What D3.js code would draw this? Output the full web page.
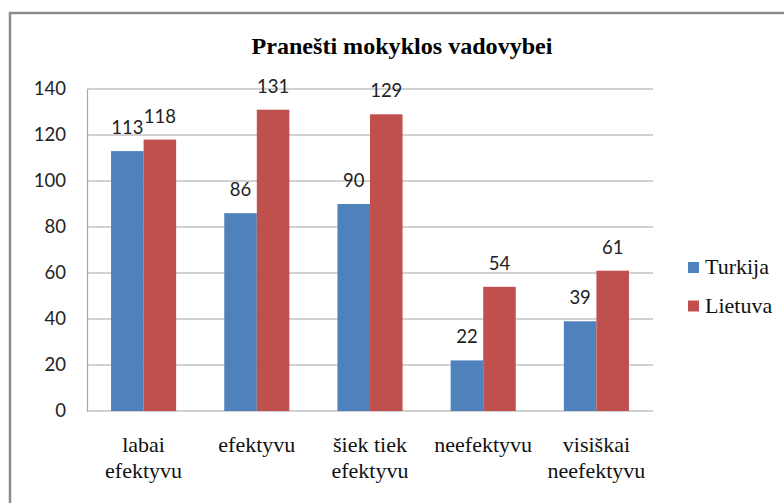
<!DOCTYPE html>
<html>
<head>
<meta charset="utf-8">
<script src="https://cdn.jsdelivr.net/npm/d3@7"></script>
<style>
  body { margin: 0; background: #fff; }
</style>
</head>
<body>
<script>
var WIDTH = 784,
    HEIGHT = 503;

var categories = [
    ['labai', 'efektyvu'],
    ['efektyvu'],
    ['šiek tiek', 'efektyvu'],
    ['neefektyvu'],
    ['visiškai', 'neefektyvu']
];
var seriesNames = ['Turkija', 'Lietuva'];
var turkija = [113, 86, 90, 22, 39];
var lietuva = [118, 131, 129, 54, 61];
var yTicks = [0, 20, 40, 60, 80, 100, 120, 140];
var colors = ['#4F81BD', '#C0504D'];

var SERIF = 'Liberation Serif, serif',
    SANS = 'Lato, Open Sans, sans-serif';

var svg = d3.select('body').append('svg')
    .attr('width', WIDTH)
    .attr('height', HEIGHT);

// outer chart border (runs off the right and bottom edges)
svg.append('rect')
    .attr('x', 10).attr('y', 13)
    .attr('width', 800).attr('height', 520)
    .attr('fill', 'none')
    .attr('stroke', '#8c8c8c')
    .attr('stroke-width', 2.5);

svg.append('text')
    .attr('x', 402).attr('y', 54)
    .attr('text-anchor', 'middle')
    .style('font-family', SERIF)
    .attr('font-weight', 'bold')
    .attr('font-size', 24)
    .attr('textLength', 301)
    .attr('lengthAdjust', 'spacingAndGlyphs')
    .text('Pranešti mokyklos vadovybei');

var plot = { left: 87, right: 653, top: 89, bottom: 411 };

var x = d3.scaleBand()
    .domain(d3.range(categories.length))
    .range([plot.left, plot.right])
    .paddingInner(0.425)
    .paddingOuter(0.2125);

var xs = d3.scaleBand()
    .domain(d3.range(seriesNames.length))
    .range([0, x.bandwidth()]);

var y = d3.scaleLinear()
    .domain([0, 140])
    .range([plot.bottom, plot.top]);

// gridlines
svg.append('g')
    .selectAll('line')
    .data(yTicks)
    .enter()
    .append('line')
    .attr('x1', plot.left).attr('x2', plot.right)
    .attr('y1', d => y(d)).attr('y2', d => y(d))
    .attr('stroke', '#a6a6a6')
    .attr('stroke-width', 1.2);

// y axis
var yAxis = svg.append('g')
    .attr('transform', 'translate(' + plot.left + ',0)')
    .call(d3.axisLeft(y).tickValues(yTicks).tickSize(0).tickPadding(21));
yAxis.select('.domain').attr('stroke', '#a6a6a6').attr('stroke-width', 1.2);
yAxis.selectAll('text')
    .style('font-family', SANS)
    .style('font-size', '18.5px')
    .attr('fill', '#222');

// bars
var series = [turkija, lietuva];
series.forEach(function(values, si) {
    var g = svg.append('g');
    g.selectAll('rect')
        .data(values)
        .enter()
        .append('rect')
        .attr('x', (d, i) => x(i) + xs(si))
        .attr('y', d => y(d))
        .attr('width', xs.bandwidth())
        .attr('height', d => y(0) - y(d))
        .attr('fill', colors[si]);

    g.selectAll('text')
        .data(values)
        .enter()
        .append('text')
        .attr('x', (d, i) => x(i) + xs(si) + xs.bandwidth() / 2)
        .attr('y', d => y(d) - 17)
        .attr('text-anchor', 'middle')
        .style('font-family', SANS)
        .attr('font-size', 18.5)
        .attr('fill', '#222')
        .text(d => d);
});

// category labels
var xl = svg.append('g');
categories.forEach(function(lines, i) {
    var t = xl.append('text')
        .attr('text-anchor', 'middle')
        .style('font-family', SERIF)
        .attr('font-size', 22)
        .attr('fill', '#111');
    lines.forEach(function(line, li) {
        t.append('tspan')
            .attr('x', x(i) + x.bandwidth() / 2)
            .attr('y', 452 + li * 26)
            .text(line);
    });
});

// legend
var legend = svg.append('g')
    .selectAll('g')
    .data(seriesNames)
    .enter()
    .append('g')
    .attr('transform', (d, i) => 'translate(688,' + (262 + i * 38.5) + ')');

legend.append('rect')
    .attr('width', 11).attr('height', 11)
    .attr('fill', (d, i) => colors[i]);

legend.append('text')
    .attr('x', 17).attr('y', 12)
    .style('font-family', SERIF)
    .attr('font-size', 22)
    .attr('fill', '#111')
    .text(d => d);
</script>
</body>
</html>
